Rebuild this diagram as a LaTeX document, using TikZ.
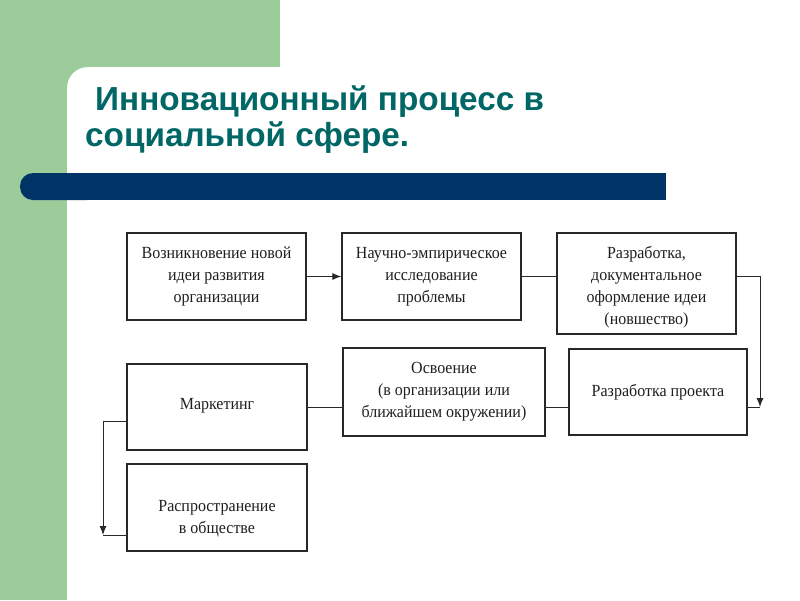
\documentclass[tikz,border=0pt]{standalone}
\usepackage{fontspec}
\setmainfont{Liberation Serif}[FakeStretch=0.94]
\newfontfamily\titlefont{Liberation Sans}
\usetikzlibrary{arrows.meta}
\definecolor{bggreen}{RGB}{156,204,154}
\definecolor{titleteal}{RGB}{0,102,102}
\definecolor{barblue}{RGB}{0,51,102}
\definecolor{boxline}{RGB}{40,40,40}
\tikzset{
  x=1pt, y=-1pt,
  boxfont/.style={align=center, font=\fontsize{17}{22}\selectfont, text=black!88},
  stagebox/.style={draw=boxline, line width=1.2pt, fill=white, inner sep=2pt, boxfont},
  link/.style={draw=boxline, line width=1pt},
  arrowlink/.style={link, -{Latex[length=9pt,width=7pt]}},
  titletext/.style={font=\titlefont\bfseries\fontsize{33.3}{36}\selectfont, text=titleteal, inner sep=0pt, anchor=base west}
}
\begin{document}
\begin{tikzpicture}
\useasboundingbox (0,0) rectangle (800,600);
\clip (0,0) rectangle (800,600);
\fill[white] (0,0) rectangle (800,600);
% green background
\fill[bggreen] (0,0) rectangle (280,67);
\fill[bggreen] (0,0) rectangle (67,600);
% rounded green corner of the white panel
\fill[bggreen] (66,66) -- (88,66) -- (88,67) .. controls (76,67) and (67,76) .. (67,88) -- (66,88) -- cycle;
% blue bar
\fill[barblue, rounded corners=13pt] (20,173) rectangle (100,200);
\fill[barblue] (45,173) rectangle (666,200);
% title
\node[titletext] (t1) at (95,110) {Инновационный процесс в};
\node[titletext] (t2) at (85,146) {социальной сфере.};
% boxes
\node[stagebox, minimum width=179pt, minimum height=87pt] (b1) at (216.5,276.5)
  {Возникновение новой\\идеи развития\\организации};
\node[stagebox, minimum width=179pt, minimum height=87pt] (b2) at (431.5,276.5)
  {Научно-эмпирическое\\исследование\\проблемы};
\node[stagebox, minimum width=179pt, minimum height=101pt,
  label={[boxfont, yshift=-4pt]center:{Разработка,\\документальное\\оформление идеи\\(новшество)}}] (b3) at (646.5,283.5) {};
\node[stagebox, minimum width=178pt, minimum height=86pt] (b4) at (658,392)
  {Разработка проекта};
\node[stagebox, minimum width=202pt, minimum height=88pt] (b5) at (444,392)
  {Освоение\\(в организации или\\ближайшем окружении)};
\node[stagebox, minimum width=180pt, minimum height=86pt,
  label={[boxfont, yshift=1pt]center:Маркетинг}] (b6) at (217,407) {};
\node[stagebox, minimum width=180pt, minimum height=87pt,
  label={[boxfont, yshift=-11pt]center:{Распространение\\в обществе}}] (b7) at (217,507.5) {};
% helper coordinates
\coordinate (r1) at (760,407);
\coordinate (l0) at (103,421);
\coordinate (l1) at (103,535);
% connectors
\draw[arrowlink] (b1.east |- b2.west) -- (b2.west);
\draw[link] (b2.east) -- (b2.east -| b3.west);
\draw[arrowlink] (b2.east -| b3.east) -- (r1 |- b2.east) -- (r1);
\draw[link] (r1) -- (r1 -| b4.east);
\draw[link] (b6.east) -- (b6.east -| b5.west);
\draw[link] (b6.east -| b5.east) -- (b6.east -| b4.west);
\draw[arrowlink] (l0 -| b6.west) -- (l0) -- (l1);
\draw[link] (l1) -- (l1 -| b7.west);
\end{tikzpicture}
\end{document}
